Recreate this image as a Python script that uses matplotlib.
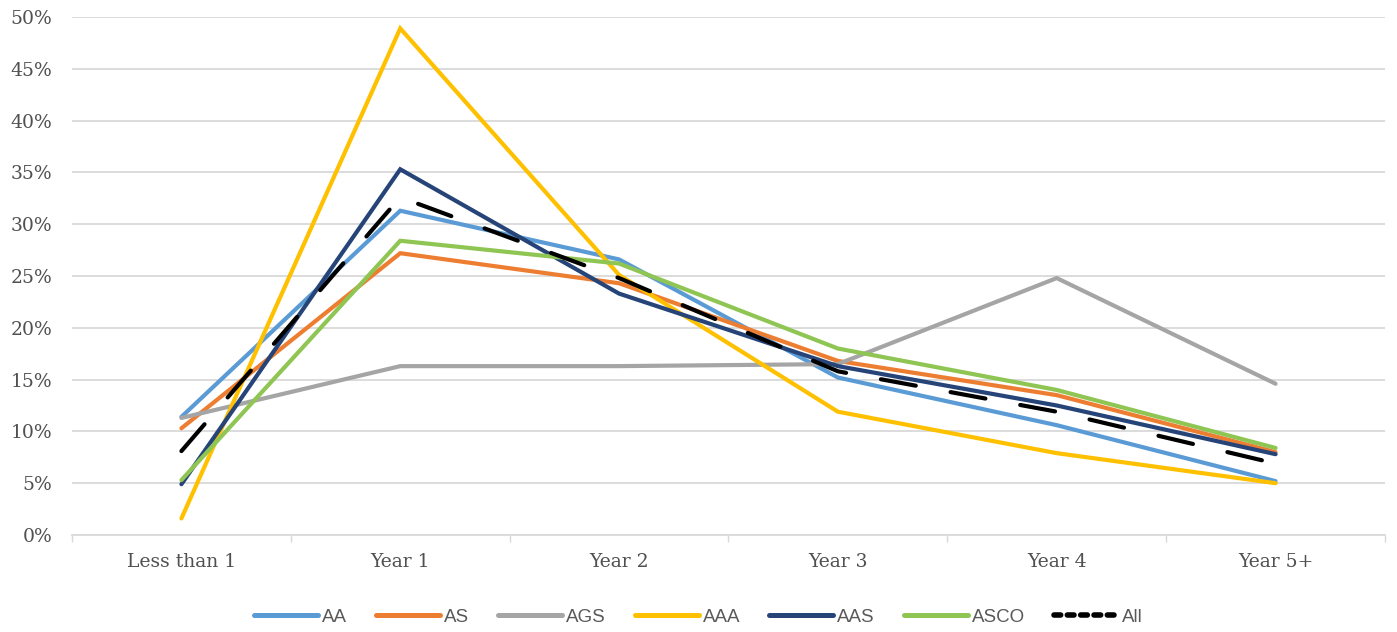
import numpy as np
import matplotlib
matplotlib.use("Agg")
import matplotlib.pyplot as plt
from matplotlib.lines import Line2D
from matplotlib.ticker import PercentFormatter

categories = ["Less than 1", "Year 1", "Year 2", "Year 3", "Year 4", "Year 5+"]

aa = [11.4, 31.3, 26.6, 15.2, 10.6, 5.2]
as_ = [10.3, 27.2, 24.3, 16.8, 13.5, 8.0]
ags = [11.3, 16.3, 16.3, 16.5, 24.8, 14.6]
aaa = [1.6, 48.9, 25.1, 11.9, 7.9, 5.0]
aas = [4.9, 35.3, 23.3, 16.3, 12.5, 7.8]
asco = [5.3, 28.4, 26.2, 18.0, 14.0, 8.4]
all_ = [8.1, 32.6, 24.8, 15.8, 11.9, 6.9]

series_names = ["AA", "AS", "AGS", "AAA", "AAS", "ASCO", "All"]
series_values = [aa, as_, ags, aaa, aas, asco, all_]
series_colors = ["#5B9BD5", "#ED7D31", "#A5A5A5", "#FFC000", "#264478", "#8FC553", "#000000"]

fig = plt.figure(figsize=(13.97, 6.32), dpi=100)
ax = fig.add_axes([72 / 1397, 1 - 535 / 632, 1313 / 1397, 518 / 632])

x = np.arange(len(categories))
lw = 3.0
handles = []
for name, vals, col in zip(series_names, series_values, series_colors):
    if name == "All":
        ax.plot(x, vals, color=col, lw=lw, dashes=(8.5, 8.5), dash_capstyle="round",
                solid_capstyle="round", zorder=4)
        h = Line2D([], [], color=col, lw=lw + 1.0, dashes=(1.2, 1.2), dash_capstyle="round")
    else:
        ax.plot(x, vals, color=col, lw=lw, solid_capstyle="round", solid_joinstyle="miter",
                zorder=3)
        h = Line2D([], [], color=col, lw=lw + 0.6, solid_capstyle="round")
    handles.append(h)

ax.set_xlim(-0.5, len(categories) - 0.5)
ax.set_ylim(0, 50)
ax.set_yticks(np.arange(0, 51, 5))
ax.yaxis.set_major_formatter(PercentFormatter(decimals=0))
ax.yaxis.grid(True, color="#D9D9D9", lw=1.3)
ax.set_axisbelow(True)

ax.set_xticks(x)
ax.set_xticklabels(categories)
ax.set_xticks(np.arange(-0.5, len(categories), 1.0), minor=True)
ax.tick_params(axis="x", which="major", length=0, pad=13)
ax.tick_params(axis="x", which="minor", length=5, width=1.0, color="#D9D9D9")
ax.tick_params(axis="y", length=0, pad=14)

for lab in ax.get_xticklabels() + ax.get_yticklabels():
    lab.set_fontfamily("DejaVu Serif")
    lab.set_fontsize(13.5)
    lab.set_color("#505050")

for side in ["top", "right", "left"]:
    ax.spines[side].set_visible(False)
ax.spines["bottom"].set_color("#D9D9D9")
ax.spines["bottom"].set_linewidth(1.3)

fig.legend(handles, series_names, loc="center", bbox_to_anchor=(0.5, 1 - 617 / 632),
           ncol=7, frameon=False, handlelength=3.4, handletextpad=0.22, columnspacing=1.55,
           prop={"family": ["Liberation Sans", "DejaVu Sans"], "size": 13.5},
           labelcolor="#595959")

fig.savefig("out.png", dpi=100)
